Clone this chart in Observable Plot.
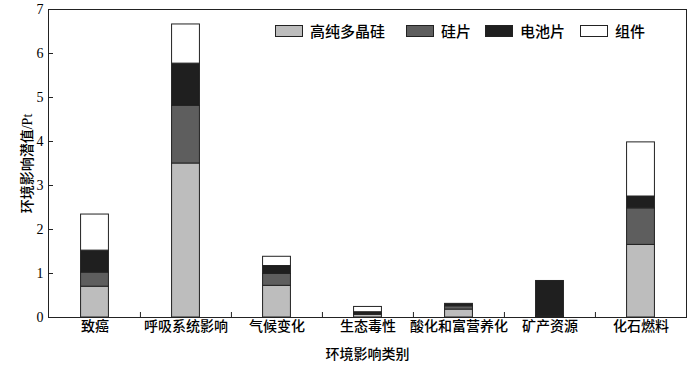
<!DOCTYPE html>
<html><head><meta charset="utf-8">
<script src="https://cdn.jsdelivr.net/npm/d3@7"></script>
<script src="https://cdn.jsdelivr.net/npm/@observablehq/plot@0.6"></script>
<style>
body{margin:0;background:#fff;}
#wrap{position:relative;width:700px;height:367px;}
.legend{position:absolute;left:275px;top:22px;display:flex;align-items:center;font-family:"Noto Sans CJK SC";font-size:15px;font-weight:500;color:#000;line-height:18px;}
.item{display:flex;align-items:center;}
.sw{width:26px;height:10px;border:1px solid #222;margin-right:7px;box-sizing:content-box;}
</style></head><body><div id="wrap"></div>
<script>
const categories = ["致癌","呼吸系统影响","气候变化","生态毒性","酸化和富营养化","矿产资源","化石燃料"];
const stages = ["高纯多晶硅","硅片","电池片","组件"];
const stageColors = ["#bdbdbd","#5e5e5e","#1f1f1f","#ffffff"];
const highPurity = [0.70, 3.50, 0.72, 0.06, 0.18, 0.01, 1.65];
const wafer      = [0.32, 1.31, 0.27, 0.02, 0.075, 0.02, 0.83];
const cell       = [0.50, 0.96, 0.18, 0.04, 0.055, 0.80, 0.27];
const moduleV    = [0.82, 0.89, 0.21, 0.12, 0.0, 0.0, 1.23];
const yTicks = [0,1,2,3,4,5,6,7];

const series = [highPurity, wafer, cell, moduleV];
const rows = [];
categories.forEach((c, i) => series.forEach((s, j) => rows.push({category: c, stage: stages[j], value: s[i]})));

const W = 700, H = 367, mL = 48, mR = 14, mT = 9, mB = 50;
const plotW = W - mL - mR, plotH = H - mT - mB;
const bw = plotW / categories.length;
const barW = 28;

const chart = Plot.plot({
  width: W, height: H,
  marginLeft: mL, marginRight: mR, marginTop: mT, marginBottom: mB,
  style: {fontFamily: '"Liberation Serif", "Noto Sans CJK SC"', fontSize: "14px", fontWeight: 500, color: "#000", background: "#fff"},
  x: {domain: categories, padding: 0},
  y: {domain: [0, 7]},
  color: {domain: stages, range: stageColors},
  marks: [
    Plot.barY(rows, {x: "category", y: "value", fill: "stage", stroke: "#222", strokeWidth: 1,
      insetLeft: (bw - barW) / 2, insetRight: (bw - barW) / 2, order: null}),
    Plot.tickY(yTicks, {y: d => d, insetRight: plotW - 5, stroke: "#222"}),
    Plot.tickX(categories.slice(1), {x: d => d, dx: -bw / 2, insetTop: plotH - 5, stroke: "#222"}),
    Plot.frame({stroke: "#222"}),
    Plot.axisY(yTicks, {tickSize: 0, tickPadding: 5, fontSize: 14,
      label: "环境影响潜值/Pt", labelAnchor: "center", labelArrow: "none", labelOffset: 26}),
    Plot.axisX({tickSize: 0, tickPadding: 4, fontSize: 14,
      label: "环境影响类别", labelAnchor: "center", labelArrow: "none", labelOffset: 41})
  ]
});
const wrap = document.getElementById("wrap");
wrap.appendChild(chart);

const legend = document.createElement("div");
legend.className = "legend";
const gaps = [21, 14, 15, 0];
stages.forEach((s, i) => {
  const it = document.createElement("div");
  it.className = "item";
  it.style.marginRight = gaps[i] + "px";
  const sw = document.createElement("span");
  sw.className = "sw";
  sw.style.background = stageColors[i];
  const t = document.createElement("span");
  t.textContent = s;
  it.appendChild(sw); it.appendChild(t);
  legend.appendChild(it);
});
wrap.appendChild(legend);
</script>
</body></html>
